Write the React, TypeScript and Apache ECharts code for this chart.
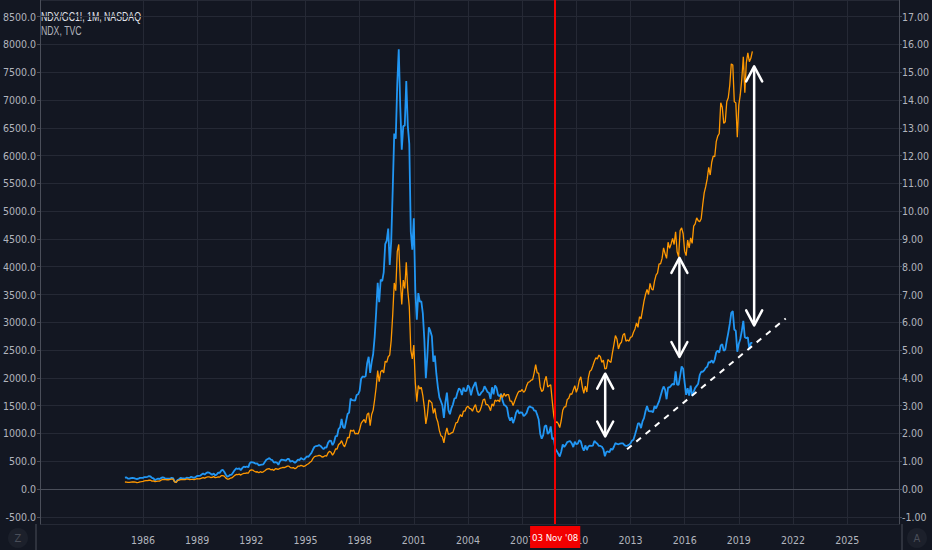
import React, { useEffect, useRef } from "react";
import * as echarts from "echarts";

const START_YEAR = 1985;

// NDX monthly closes (left axis, orange), Jan 1985 .. Oct 2019
const ndx = [
  125.6, 124.4, 119.8, 118.1, 123.6, 126.0, 128.4, 124.3, 116.2, 120.5, 128.9, 132.3,
  137.9, 146.0, 150.0, 150.8, 157.2, 157.0, 141.6, 147.2, 133.6, 138.5, 140.0, 141.4,
  158.3, 170.6, 170.8, 167.2, 166.2, 166.1, 172.8, 179.1, 178.0, 127.4, 116.6, 156.3,
  160, 170, 172, 170, 168, 180, 176, 170, 174, 173, 168, 177,
  186, 183, 184, 196, 204, 195, 210, 217, 217, 207, 210, 223,
  204, 210, 218, 214, 240, 242, 232, 200, 180, 178, 194, 200,
  220, 245, 262, 258, 268, 250, 270, 280, 282, 290, 284, 330,
  345, 340, 320, 306, 310, 292, 312, 300, 310, 330, 352, 361,
  365, 345, 352, 336, 365, 360, 355, 370, 378, 390, 385, 398,
  412, 412, 385, 380, 385, 365, 380, 410, 410, 425, 415, 404,
  420, 440, 455, 480, 500, 550, 584, 590, 595, 604, 600, 576,
  580, 600, 590, 650, 680, 660, 610, 650, 720, 720, 800, 821,
  870, 800, 760, 830, 930, 920, 1060, 1040, 1060, 990, 1000, 990,
  1070, 1180, 1220, 1250, 1190, 1340, 1370, 1140, 1340, 1420, 1610, 1836,
  2130, 1930, 2110, 2140, 2090, 2300, 2280, 2380, 2410, 2680, 3140, 3708,
  3570, 4270, 4400, 3770, 3320, 3760, 3610, 4080, 3570, 3280, 2500, 2341,
  2590, 1910, 1570, 1860, 1800, 1830, 1680, 1470, 1170, 1330, 1600, 1577,
  1550, 1360, 1450, 1280, 1200, 1050, 960, 940, 830, 990, 1100, 984,
  990, 1010, 1020, 1100, 1190, 1200, 1280, 1340, 1300, 1400, 1400, 1468,
  1490, 1450, 1440, 1400, 1470, 1520, 1400, 1380, 1410, 1490, 1600, 1621,
  1520, 1520, 1480, 1410, 1530, 1490, 1600, 1580, 1600, 1570, 1700, 1645,
  1720, 1670, 1700, 1700, 1580, 1580, 1500, 1580, 1650, 1720, 1760, 1757,
  1790, 1740, 1770, 1860, 1920, 1930, 1960, 1970, 2090, 2240, 2090, 2085,
  1841, 1754, 1781, 1949, 2028, 1837, 1860, 1873, 1584, 1322, 1180, 1212,
  1175, 1106, 1237, 1417, 1477, 1477, 1612, 1632, 1714, 1702, 1783, 1860,
  1741, 1818, 1957, 2018, 1838, 1720, 1850, 1746, 2000, 2120, 2140, 2218,
  2300, 2360, 2340, 2410, 2380, 2280, 2320, 2160, 2170, 2330, 2300, 2278,
  2450, 2600, 2760, 2700, 2520, 2610, 2640, 2770, 2800, 2660, 2680, 2661,
  2730, 2740, 2820, 2880, 2990, 2910, 3100, 3060, 3220, 3380, 3500, 3592,
  3500, 3700, 3600, 3580, 3740, 3850, 3890, 4050, 4050, 4150, 4340, 4236,
  4150, 4440, 4330, 4410, 4510, 4400, 4630, 4270, 4180, 4650, 4700, 4593,
  4280, 4200, 4480, 4340, 4520, 4420, 4730, 4770, 4880, 4830, 4810, 4864,
  5110, 5330, 5440, 5580, 5790, 5650, 5880, 5990, 5980, 6250, 6350, 6397,
  6950, 6870, 6580, 6610, 6970, 7040, 7270, 7650, 7630, 6970, 6950, 6330,
  6910, 7100, 7380, 7780, 7130, 7670, 7850, 7690, 7750, 7874.6,
];

// NDX/GC1! monthly ratio (right axis, blue), Jan 1985 .. Oct 2019
const ratio = [
  0.41, 0.42, 0.37, 0.37, 0.39, 0.40, 0.39, 0.37, 0.36, 0.37, 0.40, 0.40,
  0.40, 0.43, 0.43, 0.44, 0.46, 0.45, 0.40, 0.38, 0.32, 0.35, 0.37, 0.36,
  0.39, 0.42, 0.41, 0.37, 0.37, 0.37, 0.37, 0.40, 0.39, 0.27, 0.24, 0.32,
  0.35, 0.40, 0.38, 0.38, 0.37, 0.41, 0.40, 0.40, 0.44, 0.42, 0.40, 0.43,
  0.47, 0.47, 0.48, 0.52, 0.56, 0.52, 0.57, 0.60, 0.59, 0.55, 0.51, 0.56,
  0.49, 0.52, 0.59, 0.58, 0.66, 0.69, 0.62, 0.52, 0.44, 0.47, 0.51, 0.52,
  0.60, 0.68, 0.74, 0.72, 0.74, 0.68, 0.75, 0.81, 0.79, 0.81, 0.78, 0.93,
  0.97, 0.96, 0.94, 0.91, 0.92, 0.85, 0.87, 0.88, 0.89, 0.97, 1.05, 1.08,
  1.11, 1.06, 1.04, 0.95, 0.97, 0.95, 0.87, 0.99, 1.06, 1.05, 1.04, 1.02,
  1.08, 1.08, 0.98, 1.01, 0.99, 0.94, 0.99, 1.06, 1.04, 1.11, 1.08, 1.05,
  1.12, 1.17, 1.16, 1.23, 1.30, 1.42, 1.52, 1.54, 1.55, 1.58, 1.55, 1.49,
  1.43, 1.50, 1.49, 1.66, 1.74, 1.73, 1.58, 1.68, 1.90, 1.90, 2.16, 2.22,
  2.52, 2.23, 2.18, 2.44, 2.70, 2.75, 3.25, 3.20, 3.19, 3.18, 3.38, 3.41,
  3.53, 3.97, 4.05, 4.03, 4.06, 4.53, 4.76, 4.18, 4.57, 4.86, 5.48, 6.37,
  7.42, 6.72, 7.54, 7.48, 7.80, 8.81, 8.94, 9.37, 8.06, 8.93, 10.79, 12.79,
  12.61, 14.57, 15.83, 13.76, 12.21, 13.06, 13.08, 14.68, 13.08, 12.42, 9.26, 8.61,
  9.74, 7.15, 6.09, 7.05, 6.74, 6.75, 6.32, 5.38, 3.99, 4.77, 5.82, 5.69,
  5.50, 4.58, 4.80, 4.14, 3.67, 3.30, 3.16, 3.01, 2.56, 3.12, 3.47, 2.84,
  2.69, 2.91, 3.04, 3.26, 3.27, 3.47, 3.62, 3.57, 3.38, 3.65, 3.52, 3.53,
  3.73, 3.65, 3.37, 3.61, 3.73, 3.85, 3.58, 3.38, 3.39, 3.48, 3.53, 3.70,
  3.60, 3.49, 3.46, 3.24, 3.66, 3.41, 3.73, 3.64, 3.38, 3.34, 3.43, 3.18,
  3.02, 3.00, 2.92, 2.60, 2.46, 2.58, 2.37, 2.53, 2.75, 2.85, 2.72, 2.76,
  2.75, 2.62, 2.67, 2.74, 2.91, 2.98, 2.94, 2.93, 2.82, 2.82, 2.67, 2.50,
  1.99, 1.81, 1.94, 2.26, 2.29, 1.98, 2.04, 2.25, 1.79, 1.84, 1.45, 1.37,
  1.27, 1.17, 1.35, 1.60, 1.51, 1.59, 1.69, 1.71, 1.72, 1.64, 1.51, 1.70,
  1.61, 1.63, 1.76, 1.71, 1.51, 1.38, 1.57, 1.40, 1.53, 1.56, 1.55, 1.56,
  1.73, 1.67, 1.63, 1.55, 1.55, 1.52, 1.43, 1.18, 1.34, 1.35, 1.32, 1.45,
  1.41, 1.52, 1.65, 1.62, 1.61, 1.63, 1.64, 1.64, 1.58, 1.55, 1.56, 1.59,
  1.64, 1.74, 1.77, 1.95, 2.14, 2.36, 2.36, 2.19, 2.43, 2.55, 2.80, 2.99,
  2.81, 2.79, 2.80, 2.76, 2.99, 2.90, 3.03, 3.15, 3.35, 3.54, 3.69, 3.58,
  3.23, 3.66, 3.66, 3.72, 3.79, 3.75, 4.23, 3.76, 3.75, 4.07, 4.41, 4.33,
  3.83, 3.39, 3.63, 3.36, 3.72, 3.35, 3.50, 3.64, 3.71, 3.79, 4.10, 4.22,
  4.22, 4.27, 4.36, 4.40, 4.57, 4.55, 4.63, 4.53, 4.66, 4.92, 4.98, 4.91,
  5.17, 5.21, 4.97, 5.02, 5.34, 5.62, 5.94, 6.34, 6.40, 5.74, 5.69, 4.94,
  5.23, 5.40, 5.69, 6.05, 5.46, 5.43, 5.46, 5.03, 5.26, 5.26,
];

const yearTicks = [1986, 1989, 1992, 1995, 1998, 2001, 2004, 2007, 2010, 2013, 2016, 2019, 2022, 2025];
const markerDate = 2008 + 10 / 12; // 03 Nov '08
const markerLabel = "03 Nov '08";

// Annotation arrows (right-axis units)
const arrowX = [2011.6, 2015.71, 2019.85];
const arrowTop = [4.15, 8.32, 15.21];
const arrowBottom = [1.89, 4.75, 5.89];

// Dashed support line (right-axis units)
const trendX = [2012.81, 2021.6];
const trendY = [1.43, 6.14];

const titleMain = "NDX/GC1!, 1M, NASDAQ";
const titleSub = "NDX, TVC";

const BG = "#131722";
const GRID = "#252935";
const AXIS = "#4a4e59";
const TEXT = "#b2b5be";
const ORANGE = "#ff9800";
const BLUE = "#2196f3";
const FONT = "'DejaVu Sans Condensed', 'Liberation Sans', sans-serif";
const TITLE_FONT = "'Liberation Sans', sans-serif";

export default function App() {
  const ref = useRef<HTMLDivElement>(null);

  useEffect(() => {
    document.body.style.margin = "0";
    document.body.style.background = BG;
    const chart = echarts.init(ref.current!, null, { renderer: "svg" });

    const toPoints = (arr: number[]) => arr.map((v, i) => [START_YEAR + i / 12, v]);
    const lastNdx = ndx[ndx.length - 1];
    const lastRatio = ratio[ratio.length - 1];

    const option: any = {
      animation: false,
      backgroundColor: BG,
      textStyle: { fontFamily: FONT },
      grid: { left: 36, right: 30, top: 0, bottom: 26, containLabel: false },
      xAxis: {
        type: "value",
        min: 1980.3,
        max: 2027.87,
        axisLine: { show: true, lineStyle: { color: AXIS } },
        axisTick: { show: false, customValues: yearTicks },
        axisLabel: {
          customValues: yearTicks,
          formatter: (v: number) => String(Math.round(v)),
          color: TEXT,
          fontSize: 10.5,
          margin: 10,
          fontFamily: FONT,
        },
        splitLine: { show: true, lineStyle: { color: GRID } },
      },
      yAxis: [
        {
          type: "value",
          position: "left",
          min: -630,
          max: 8800,
          splitNumber: 18,
          axisLine: { show: true, lineStyle: { color: AXIS } },
          axisTick: { show: true, length: 3, lineStyle: { color: AXIS } },
          axisLabel: {
            color: TEXT,
            fontSize: 10.5,
            margin: 4,
            showMinLabel: false,
            showMaxLabel: false,
            formatter: (v: number) => v.toFixed(1),
            fontFamily: FONT,
          },
          splitLine: { show: true, lineStyle: { color: GRID } },
        },
        {
          type: "value",
          position: "right",
          min: -1.26,
          max: 17.6,
          splitNumber: 18,
          axisLine: { show: true, lineStyle: { color: AXIS } },
          axisTick: { show: true, length: 3, lineStyle: { color: AXIS } },
          axisLabel: {
            color: TEXT,
            fontSize: 10.5,
            margin: 3,
            showMinLabel: false,
            showMaxLabel: false,
            formatter: (v: number) => v.toFixed(2),
            fontFamily: FONT,
          },
          splitLine: { show: false },
        },
      ],
      series: [
        {
          name: "NDX/GC1!",
          type: "line",
          xAxisIndex: 0,
          yAxisIndex: 1,
          data: toPoints(ratio),
          showSymbol: false,
          lineStyle: { color: BLUE, width: 1.8 },
          itemStyle: { color: BLUE },
          z: 2,
          markLine: {
            silent: true,
            symbol: ["none", "none"],
            data: [
              {
                yAxis: lastRatio,
                lineStyle: { opacity: 0 },
                label: {
                  show: true,
                  position: "end",
                  formatter: lastRatio.toFixed(2),
                  color: "#ffffff",
                  backgroundColor: BLUE,
                  padding: [3, 5, 2, 3],
                  fontSize: 10.5,
                  distance: 0,
                  fontFamily: FONT,
                },
              },
              {
                xAxis: markerDate,
                lineStyle: { color: "#f20000", width: 2, type: "solid", opacity: 1 },
                label: {
                  show: true,
                  position: "start",
                  formatter: markerLabel,
                  color: "#ffffff",
                  backgroundColor: "#f20000",
                  padding: [6, 2, 6, 2],
                  fontSize: 9.5,
                  distance: 2,
                  fontFamily: FONT,
                },
              },
            ],
          },
        },
        {
          name: "NDX",
          type: "line",
          xAxisIndex: 0,
          yAxisIndex: 0,
          data: toPoints(ndx),
          showSymbol: false,
          lineStyle: { color: ORANGE, width: 1.3 },
          itemStyle: { color: ORANGE },
          z: 3,
          markLine: {
            silent: true,
            symbol: ["none", "none"],
            data: [
              {
                yAxis: lastNdx,
                lineStyle: { opacity: 0 },
                label: {
                  show: true,
                  position: "start",
                  formatter: lastNdx.toFixed(1),
                  color: "#ffffff",
                  backgroundColor: ORANGE,
                  padding: [3, 2, 2, 3],
                  fontSize: 10.5,
                  distance: 0,
                  fontFamily: FONT,
                },
              },
            ],
          },
        },
        {
          name: "trend",
          type: "line",
          xAxisIndex: 0,
          yAxisIndex: 1,
          data: trendX.map((x, i) => [x, trendY[i]]),
          showSymbol: false,
          lineStyle: { color: "#ffffff", width: 2, type: [6, 6] },
          z: 6,
          silent: true,
        },
        {
          name: "arrows",
          type: "custom",
          xAxisIndex: 0,
          yAxisIndex: 1,
          silent: true,
          z: 7,
          data: arrowX.map((x, i) => [x, arrowTop[i], arrowBottom[i]]),
          encode: { x: 0, y: [1, 2] },
          renderItem: (_params: any, api: any) => {
            const top = api.coord([api.value(0), api.value(1)]);
            const bot = api.coord([api.value(0), api.value(2)]);
            const hw = 8;
            const hh = 15;
            const style = { stroke: "#ffffff", lineWidth: 2.5, fill: "none", lineCap: "round", lineJoin: "round" };
            return {
              type: "group",
              children: [
                { type: "line", shape: { x1: top[0], y1: top[1] + 1, x2: bot[0], y2: bot[1] - 1 }, style },
                {
                  type: "polyline",
                  shape: { points: [[top[0] - hw, top[1] + hh], [top[0], top[1]], [top[0] + hw, top[1] + hh]] },
                  style,
                },
                {
                  type: "polyline",
                  shape: { points: [[bot[0] - hw, bot[1] - hh], [bot[0], bot[1]], [bot[0] + hw, bot[1] - hh]] },
                  style,
                },
              ],
            };
          },
        },
      ],
      graphic: [
        {
          type: "text",
          x: 41,
          y: 16,
          scaleX: 0.7,
          silent: true,
          style: { text: titleMain, fill: "#e0e3eb", font: "12.5px " + TITLE_FONT, verticalAlign: "middle" },
        },
        {
          type: "text",
          x: 41,
          y: 30,
          scaleX: 0.7,
          silent: true,
          style: { text: titleSub, fill: "#b2b5be", font: "12.5px " + TITLE_FONT, verticalAlign: "middle" },
        },
        { type: "line", shape: { x1: 36, y1: 524, x2: 36, y2: 550 }, style: { stroke: AXIS, lineWidth: 1 }, silent: true },
        { type: "line", shape: { x1: 902, y1: 524, x2: 902, y2: 550 }, style: { stroke: AXIS, lineWidth: 1 }, silent: true },
        { type: "circle", shape: { cx: 18, cy: 538, r: 10 }, style: { fill: "#1c202b" }, silent: true },
        {
          type: "text",
          x: 18,
          y: 538,
          style: { text: "Z", fill: "#4a4e59", font: "11px " + FONT, align: "center", verticalAlign: "middle" },
          silent: true,
        },
        { type: "circle", shape: { cx: 917, cy: 538, r: 10 }, style: { fill: "#1c202b" }, silent: true },
        {
          type: "text",
          x: 917,
          y: 538,
          style: { text: "A", fill: "#4a4e59", font: "11px " + FONT, align: "center", verticalAlign: "middle" },
          silent: true,
        },
      ],
    };

    chart.setOption(option);
    return () => chart.dispose();
  }, []);

  return <div ref={ref} style={{ width: 932, height: 550 }} />;
}
